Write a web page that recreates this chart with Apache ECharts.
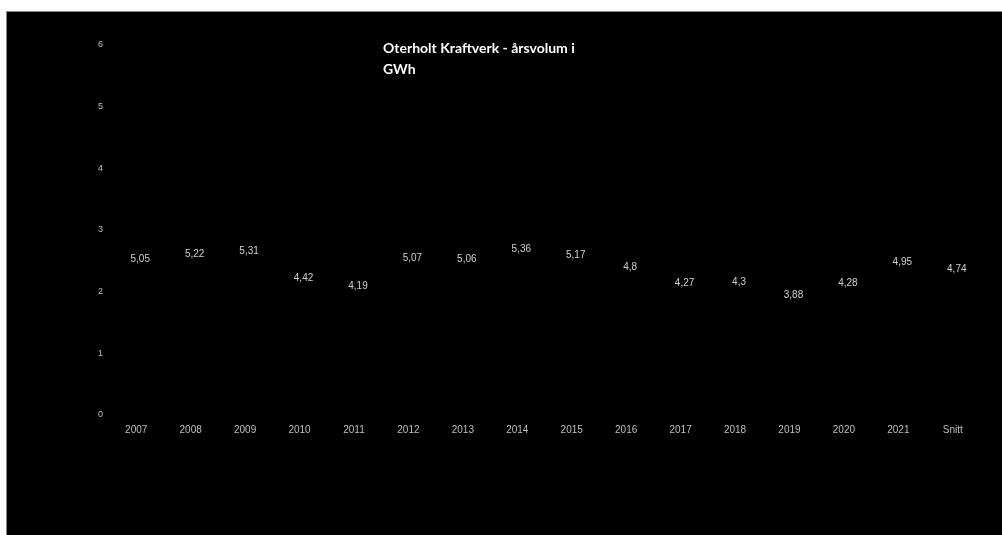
<!DOCTYPE html>
<html><head><meta charset="utf-8">
<script src="https://cdn.jsdelivr.net/npm/echarts@6/dist/echarts.min.js"></script>
<style>
html,body{margin:0;padding:0;background:#fff;width:1002px;height:535px;overflow:hidden}
#wrap{position:absolute;left:6px;top:11px;width:996px;height:524px;background:#000;border-top:1px solid #888;border-left:1px solid #888;box-sizing:border-box}
#c{position:absolute;left:0;top:0;width:995px;height:523px}
</style></head><body>
<div id="wrap"><div id="c"></div></div>
<script>
const categories = ['2007','2008','2009','2010','2011','2012','2013','2014','2015','2016','2017','2018','2019','2020','2021','Snitt'];
const values = [5.05,5.22,5.31,4.42,4.19,5.07,5.06,5.36,5.17,4.8,4.27,4.3,3.88,4.28,4.95,4.74];
const yTicks = [0,1,2,3,4,5,6];
const titleText = 'Oterholt Kraftverk - årsvolum i\nGWh';

const chart = echarts.init(document.getElementById('c'));
chart.setOption({
  backgroundColor: '#000',
  animation: false,
  title: {
    text: titleText, left: 371, top: 21,
    textStyle: {color: '#fff', fontFamily: 'Lato', fontWeight: 'bold', fontSize: 14, lineHeight: 21}
  },
  grid: {left: 102, right: 22, top: 33, bottom: 120},
  xAxis: {
    type: 'category', data: categories,
    axisLine: {show: false}, axisTick: {show: false},
    axisLabel: {color: '#bfbfbf', fontFamily: 'Liberation Sans Narrow, Liberation Sans', fontSize: 10, margin: 10}
  },
  yAxis: {
    type: 'value', min: yTicks[0], max: yTicks[yTicks.length-1], interval: 1,
    axisLine: {show: false}, axisTick: {show: false}, splitLine: {show: false},
    axisLabel: {color: '#bfbfbf', fontFamily: 'Liberation Sans Narrow, Liberation Sans', fontSize: 9, margin: 6}
  },
  series: [{
    type: 'bar', data: values, barWidth: '55%',
    itemStyle: {color: '#000'},
    label: {
      show: true, position: 'inside', offset: [4, 0],
      color: '#d0d0d0', fontFamily: 'Liberation Sans Narrow, Liberation Sans', fontSize: 10,
      formatter: p => String(p.value).replace('.', ',')
    }
  }]
});
</script>
</body></html>
